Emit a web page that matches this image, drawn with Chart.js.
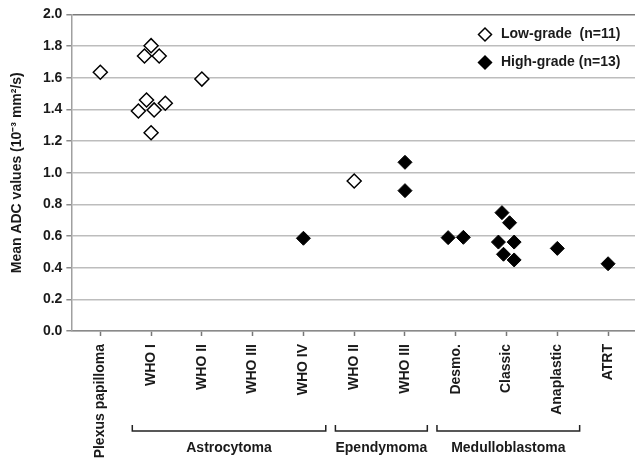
<!DOCTYPE html>
<html>
<head>
<meta charset="utf-8">
<script src="https://cdn.jsdelivr.net/npm/chart.js@4.4.1/dist/chart.umd.min.js"></script>
<style>
  body { margin: 0; background: #fff; }
  #wrap { width: 635px; height: 464px; }
</style>
</head>
<body>
<div id="wrap"><canvas id="grafico" width="635" height="464"></canvas></div>
<script>
// Categorias del eje X
const categorias = ["Plexus papilloma", "WHO I", "WHO II", "WHO III", "WHO IV",
  "WHO II", "WHO III", "Desmo.", "Classic", "Anaplastic", "ATRT"];

// Grupos (corchetes bajo el eje)
const grupos = [
  { nombre: "Astrocytoma", desde: 1, hasta: 4 },
  { nombre: "Ependymoma", desde: 5, hasta: 6 },
  { nombre: "Medulloblastoma", desde: 7, hasta: 9 },
];

// Low-grade: categoria, desplazamiento dentro de la categoria, valor
const bajoCat = [0, 1, 1, 1, 1, 1, 1, 1, 1, 2, 5];
const bajoDesp = [0, 0, -0.13, 0.16, -0.09, -0.25, 0.06, 0.28, 0, 0, 0];
const bajoValor = [1.635, 1.803, 1.738, 1.738, 1.46, 1.39, 1.397, 1.439, 1.253, 1.592, 0.948];

// High-grade
const altoCat = [4, 6, 6, 7, 7, 8, 8, 8, 8, 8, 8, 9, 10];
const altoDesp = [0, 0, 0, -0.15, 0.15, -0.09, 0.06, -0.16, 0.15, -0.06, 0.15, 0, 0];
const altoValor = [0.586, 1.066, 0.887, 0.59, 0.592, 0.748, 0.684, 0.562, 0.562, 0.485, 0.449, 0.522, 0.425];

// Etiquetas del eje Y
const ticksY = [0, 0.2, 0.4, 0.6, 0.8, 1.0, 1.2, 1.4, 1.6, 1.8, 2.0];

const fuente = "'Liberation Sans', Arial, sans-serif";
const textColor = "#1a1a1a";

function puntos(cat, desp, valor) {
  return valor.map((v, i) => ({ x: cat[i] + 0.5 + desp[i], y: v }));
}

function rombo(ctx, x, y, r, relleno) {
  ctx.beginPath();
  ctx.moveTo(x - r, y);
  ctx.lineTo(x, y - r);
  ctx.lineTo(x + r, y);
  ctx.lineTo(x, y + r);
  ctx.closePath();
  ctx.fillStyle = relleno;
  ctx.fill();
  ctx.lineWidth = 1.5;
  ctx.strokeStyle = "#000";
  ctx.stroke();
}

// Leyenda dentro del area del grafico
const leyenda = {
  id: "leyenda",
  afterDraw(chart) {
    const ctx = chart.ctx;
    const a = chart.chartArea;
    const items = [
      { texto: "Low-grade  (n=11)", relleno: "#fff" },
      { texto: "High-grade (n=13)", relleno: "#000" },
    ];
    ctx.save();
    ctx.font = "bold 14px " + fuente;
    ctx.textBaseline = "middle";
    ctx.textAlign = "left";
    items.forEach((it, i) => {
      const y = a.top + 20 + i * 28;
      rombo(ctx, a.right - 150, y, 6.5, it.relleno);
      ctx.fillStyle = textColor;
      ctx.fillText(it.texto, a.right - 134, y);
    });
    ctx.restore();
  },
};

// Corchetes de grupos bajo las etiquetas
const corchetes = {
  id: "corchetes",
  afterDraw(chart) {
    const ctx = chart.ctx;
    const sx = chart.scales.x;
    const yLinea = 431;
    ctx.save();
    ctx.strokeStyle = "#222";
    ctx.lineWidth = 1.5;
    ctx.font = "bold 14px " + fuente;
    ctx.fillStyle = textColor;
    ctx.textAlign = "center";
    ctx.textBaseline = "middle";
    grupos.forEach((g) => {
      const x1 = sx.getPixelForValue(g.desde + 0.13);
      const x2 = sx.getPixelForValue(g.hasta + 0.94);
      ctx.beginPath();
      ctx.moveTo(x1, yLinea - 6);
      ctx.lineTo(x1, yLinea);
      ctx.lineTo(x2, yLinea);
      ctx.lineTo(x2, yLinea - 6);
      ctx.stroke();
      ctx.fillText(g.nombre, (x1 + x2) / 2, yLinea + 17);
    });
    ctx.restore();
  },
};

new Chart(document.getElementById("grafico"), {
  type: "scatter",
  data: {
    datasets: [
      {
        label: "Low-grade  (n=11)",
        data: puntos(bajoCat, bajoDesp, bajoValor),
        pointStyle: "rectRot",
        pointRadius: 7,
        backgroundColor: "#fff",
        borderColor: "#000",
        borderWidth: 1.5,
      },
      {
        label: "High-grade (n=13)",
        data: puntos(altoCat, altoDesp, altoValor),
        pointStyle: "rectRot",
        pointRadius: 7,
        backgroundColor: "#000",
        borderColor: "#000",
        borderWidth: 1,
      },
    ],
  },
  options: {
    responsive: false,
    animation: false,
    layout: { autoPadding: false, padding: { top: 14.5, right: 0, bottom: 0, left: 0 } },
    plugins: {
      legend: { display: false },
      tooltip: { enabled: false },
    },
    scales: {
      x: {
        type: "linear",
        min: -0.07,
        max: 11.03,
        afterBuildTicks: (scale) => {
          scale.ticks = categorias.map((c, i) => ({ value: i + 0.5 }));
        },
        afterFit: (scale) => {
          scale.paddingRight = 0;
          scale.paddingLeft = 0;
          scale.height = 133;
        },
        ticks: {
          autoSkip: false,
          maxRotation: 90,
          minRotation: 90,
          padding: 8,
          color: textColor,
          font: { family: fuente, size: 14, weight: "bold" },
          callback: (v, i) => categorias[i],
        },
        grid: {
          drawOnChartArea: false,
          drawTicks: true,
          tickLength: 5,
          tickColor: "#777",
          tickWidth: 1.5,
        },
        border: { color: "#8a8a8a", width: 1.5 },
      },
      y: {
        min: 0,
        max: 2,
        afterBuildTicks: (scale) => {
          scale.ticks = ticksY.map((v) => ({ value: v }));
        },
        ticks: {
          padding: 4,
          color: textColor,
          font: { family: fuente, size: 14, weight: "bold" },
          callback: (v) => v.toFixed(1),
        },
        grid: {
          color: (c) => (c.tick && c.tick.value === 2 ? "#7a7a7a" : "#bdbdbd"),
          lineWidth: 1.5,
          tickLength: 5,
          tickColor: "#8a8a8a",
        },
        border: { color: "#a0a0a0", width: 1.5 },
        title: {
          display: true,
          text: "Mean ADC values (10⁻³ mm²/s)",
          color: textColor,
          font: { family: fuente, size: 14, weight: "bold" },
          padding: { top: 8.6, bottom: 13.5 },
        },
      },
    },
  },
  plugins: [leyenda, corchetes],
});
</script>
</body>
</html>
